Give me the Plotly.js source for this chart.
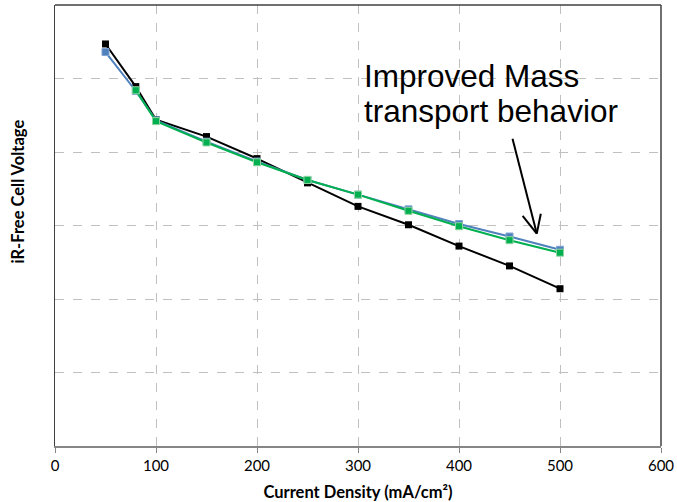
<!DOCTYPE html>
<html>
<head>
<meta charset="utf-8">
<script src="https://cdn.plot.ly/plotly-3.0.1.min.js"></script>
<style>html,body{margin:0;padding:0;background:#fff;}#chart{width:677px;height:502px;}</style>
</head>
<body>
<div id="chart"></div>
<script>
const xBlack = [50, 80, 100, 150, 200, 250, 300, 350, 400, 450, 500];
const yBlack = [5.47, 4.89, 4.44, 4.21, 3.91, 3.58, 3.26, 3.01, 2.72, 2.45, 2.14];
const xBlue = [50, 80, 100, 150, 200, 250, 300, 350, 400, 450, 500];
const yBlue = [5.36, 4.83, 4.43, 4.14, 3.87, 3.62, 3.42, 3.22, 3.02, 2.85, 2.67];
const xGreen = [80, 100, 150, 200, 250, 300, 350, 400, 450, 500];
const yGreen = [4.84, 4.42, 4.13, 3.86, 3.62, 3.42, 3.20, 2.99, 2.80, 2.63];
const xTicks = [0, 100, 200, 300, 400, 500, 600];
const noteLines = ['Improved Mass', 'transport behavior'];
const arrowTail = [453, 4.18];
const arrowTip = [477, 2.89];
const arrowArmL = [463, 3.13];
const arrowArmR = [481, 3.16];

const traces = [
  {x: xBlack, y: yBlack, mode: 'lines+markers', line: {color: '#000000', width: 2},
   marker: {symbol: 'square', size: 7, color: '#000000'}},
  {x: xBlue, y: yBlue, mode: 'lines+markers', line: {color: '#4F81BD', width: 2},
   marker: {symbol: 'square', size: 7, color: '#4F81BD', line: {color: '#7ea3d3', width: 1}}},
  {x: xGreen, y: yGreen, mode: 'lines+markers', line: {color: '#00B050', width: 2},
   marker: {symbol: 'square', size: 7, color: '#00B050', line: {color: '#8fd49f', width: 1}}}
];

const font = 'Lato, "Open Sans", sans-serif';
const layout = {
  width: 677, height: 502,
  margin: {l: 55, r: 16, t: 5, b: 56},
  paper_bgcolor: '#ffffff', plot_bgcolor: '#ffffff',
  showlegend: false,
  xaxis: {
    range: [0, 600], tickvals: xTicks, ticktext: xTicks.map(String),
    showgrid: true, gridcolor: '#c0c0c0', griddash: 'dash', gridwidth: 1,
    zeroline: false, showline: true, linecolor: '#868686', linewidth: 2,
    ticks: 'outside', ticklen: 5, tickcolor: '#868686',
    tickfont: {family: font, size: 15, color: '#000'},
    title: {text: '<b>Current Density (mA/cm²)</b>', font: {family: font, size: 16.5, color: '#000'}, standoff: 13}
  },
  yaxis: {
    range: [0, 6], dtick: 1, showticklabels: false,
    showgrid: true, gridcolor: '#c0c0c0', griddash: 'dash', gridwidth: 1,
    zeroline: false, showline: true, linecolor: '#404040', linewidth: 1.5,
    ticks: ''
  },
  shapes: [
    {type: 'line', xref: 'paper', yref: 'paper', x0: 0, x1: 1, y0: 1, y1: 1, line: {color: '#404040', width: 1.5}},
    {type: 'line', xref: 'paper', yref: 'paper', x0: 1, x1: 1, y0: 0, y1: 1, line: {color: '#404040', width: 1.5}},
    {type: 'line', xref: 'x', yref: 'y', x0: arrowTail[0], y0: arrowTail[1], x1: arrowTip[0], y1: arrowTip[1], line: {color: '#000', width: 2}},
    {type: 'line', xref: 'x', yref: 'y', x0: arrowArmL[0], y0: arrowArmL[1], x1: arrowTip[0], y1: arrowTip[1], line: {color: '#000', width: 2}},
    {type: 'line', xref: 'x', yref: 'y', x0: arrowArmR[0], y0: arrowArmR[1], x1: arrowTip[0], y1: arrowTip[1], line: {color: '#000', width: 2}}
  ],
  annotations: [
    {xref: 'x', yref: 'y', x: 304, y: 5.03, xanchor: 'left', yanchor: 'middle', showarrow: false,
     text: noteLines[0], font: {family: 'Liberation Sans, Arial, sans-serif', size: 31.5, color: '#000'}},
    {xref: 'x', yref: 'y', x: 304, y: 4.56, xanchor: 'left', yanchor: 'middle', showarrow: false,
     text: noteLines[1], font: {family: 'Liberation Sans, Arial, sans-serif', size: 31.5, color: '#000'}},
    {xref: 'paper', yref: 'paper', x: -0.061, y: 0.577, xanchor: 'center', yanchor: 'middle', showarrow: false,
     textangle: -90, text: '<b>iR-Free Cell Voltage</b>', font: {family: font, size: 16.5, color: '#000'}}
  ]
};

Plotly.newPlot('chart', traces, layout, {displayModeBar: false, staticPlot: true});
</script>
</body>
</html>
